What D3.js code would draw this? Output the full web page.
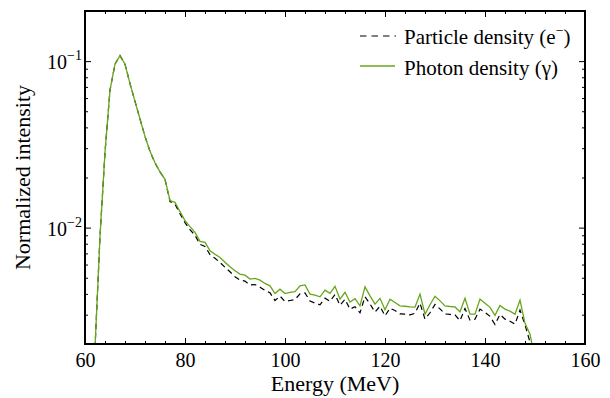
<!DOCTYPE html>
<html><head><meta charset="utf-8">
<script src="https://cdn.jsdelivr.net/npm/d3@7"></script>
<style>
body{margin:0;background:#fff}
svg{display:block}
text{font-family:"Liberation Serif","Times New Roman",serif;fill:#000}
</style>
</head><body>
<svg id="c" width="610" height="398"></svg>
<script>
// ---- data ----
const energy = [62,63,64,65,66,67,68,69,70,71,72,73,74,75,76,77,78,79,80,81,82,83,84,85,86,87,88,89,90,
  91,92,93,94,95,96,97,98,99,100,101,102,103,104,105,106,107,108,109,110,111,112,113,114,115,116,117,118,119,120,
  121,122,123,124,125,126,127,128,129,130,131,132,133,134,135,136,137,138,139,140,141,142,143,144,145,146,147,148,149,150];
const photon = [0.00189,0.00883,0.0283,0.0669,0.0959,0.1079,0.0959,0.0733,0.0573,0.0449,0.0353,0.0287,0.0245,0.0216,0.0195,
  0.01455,0.01420,0.01248,0.01102,0.01014,0.00937,0.00827,0.00815,0.00727,0.00692,0.00662,0.00620,0.00582,0.00551,
  0.00526,0.00518,0.00491,0.00495,0.00484,0.00462,0.00447,0.00402,0.00427,0.00402,0.00408,0.00413,0.00447,0.00453,
  0.00399,0.00393,0.00384,0.00421,0.00403,0.00444,0.00372,0.00409,0.00357,0.00374,0.00339,0.00441,0.00389,0.00347,
  0.00376,0.00321,0.00372,0.00355,0.00339,0.00337,0.00334,0.00333,0.00399,0.00302,0.00344,0.00387,0.00363,0.00339,
  0.00336,0.00334,0.00312,0.00376,0.00302,0.00302,0.00372,0.00351,0.00332,0.00297,0.00341,0.00324,0.00315,0.00302,
  0.00367,0.00266,0.00229,0.00163];
const particle = [0.00189,0.00883,0.0283,0.0669,0.0959,0.1079,0.0959,0.0733,0.0573,0.0449,0.0353,0.0287,0.0245,0.0216,0.0195,
  0.01435,0.01382,0.01214,0.01072,0.00972,0.00899,0.00793,0.00771,0.00688,0.00655,0.00618,0.00578,0.00543,0.00507,
  0.00484,0.00477,0.00452,0.00455,0.00439,0.00419,0.00406,0.00365,0.00388,0.00360,0.00365,0.00370,0.00400,0.00405,
  0.00362,0.00352,0.00344,0.00377,0.00361,0.00397,0.00342,0.00371,0.00324,0.00335,0.00308,0.00384,0.00348,0.00311,
  0.00337,0.00295,0.00328,0.00318,0.00303,0.00302,0.00299,0.00306,0.00352,0.00282,0.00308,0.00346,0.00325,0.00303,
  0.00301,0.00299,0.00276,0.00327,0.00278,0.00282,0.00324,0.00310,0.00293,0.00262,0.00301,0.00282,0.00274,0.00263,
  0.00320,0.00261,0.00205,0.00140];
const xTickValues = [60,80,100,120,140,160];
const xMinorTicks = [64,68,72,76,84,88,92,96,104,108,112,116,124,128,132,136,144,148,152,156];
const yMajorTicks = [0.01,0.1];
const yTickExponents = ["\u22122","\u22121"];
const yMinorTicks = [0.002,0.003,0.004,0.005,0.006,0.007,0.008,0.009,0.02,0.03,0.04,0.05,0.06,0.07,0.08,0.09,0.2];
const seriesNames = ["Particle density (e", "Photon density (\u03b3)"];
const xLabel = "Energy (MeV)";
const yLabel = "Normalized intensity";

// ---- layout ----
const L = 85, R = 585, T = 11, B = 344;
const svg = d3.select("#c");
const x = d3.scaleLinear().domain([60,160]).range([L,R]);
const y = d3.scaleLog().domain([0.002,0.2]).range([B,T]);

svg.append("defs").append("clipPath").attr("id","clip")
  .append("rect").attr("x",L).attr("y",T).attr("width",R-L).attr("height",B-T);

const green = "#66a619";
const dash = "5.5,4";

function tickAxis(gen, tr){
  const g = svg.append("g").attr("transform",tr).call(gen);
  g.select(".domain").remove();
  g.selectAll(".tick line").attr("stroke","#000").attr("stroke-width",1);
  return g;
}
// bottom
const xb = tickAxis(d3.axisBottom(x).tickValues(xTickValues).tickSize(-6).tickPadding(9).tickFormat(d3.format("d")), `translate(0,${B})`);
xb.selectAll("text").attr("font-size",20).attr("font-family","Liberation Serif");
tickAxis(d3.axisBottom(x).tickValues(xMinorTicks).tickSize(-3).tickFormat(""), `translate(0,${B})`);
// top
tickAxis(d3.axisTop(x).tickValues(xTickValues).tickSize(-6).tickFormat(""), `translate(0,${T})`);
tickAxis(d3.axisTop(x).tickValues(xMinorTicks).tickSize(-3).tickFormat(""), `translate(0,${T})`);
// left
tickAxis(d3.axisLeft(y).tickValues(yMajorTicks).tickSize(-6).tickFormat(""), `translate(${L},0)`);
tickAxis(d3.axisLeft(y).tickValues(yMinorTicks).tickSize(-3).tickFormat(""), `translate(${L},0)`);
// right
tickAxis(d3.axisRight(y).tickValues(yMajorTicks).tickSize(-6).tickFormat(""), `translate(${R},0)`);
tickAxis(d3.axisRight(y).tickValues(yMinorTicks).tickSize(-3).tickFormat(""), `translate(${R},0)`);

// y tick labels 10^n
yMajorTicks.forEach((v,i)=>{
  const t = svg.append("text").attr("x",82).attr("y",y(v)+8).attr("text-anchor","end").attr("font-size",20);
  t.append("tspan").text("10");
  t.append("tspan").attr("dy",-9).attr("font-size",14).text(yTickExponents[i]);
});

// lines
const pts = (arr)=> energy.map((e,i)=>({e, v: arr[i]}));
const line = d3.line().x(d=>x(d.e)).y(d=>y(d.v));
const plot = svg.append("g").attr("clip-path","url(#clip)");
plot.append("path").datum(pts(particle)).attr("d",line).attr("fill","none")
  .attr("stroke","#000").attr("stroke-width",1.2).attr("stroke-dasharray",dash);
plot.append("path").datum(pts(photon)).attr("d",line).attr("fill","none")
  .attr("stroke",green).attr("stroke-width",1.3);

// frame
svg.append("rect").attr("x",L).attr("y",T).attr("width",R-L).attr("height",B-T)
  .attr("fill","none").attr("stroke","#000").attr("stroke-width",2);

// legend
const lg = svg.append("g");
lg.append("line").attr("x1",360).attr("x2",396).attr("y1",36).attr("y2",36)
  .attr("stroke","#000").attr("stroke-width",1.2).attr("stroke-dasharray","6.5,5");
lg.append("line").attr("x1",360).attr("x2",395).attr("y1",66).attr("y2",66)
  .attr("stroke",green).attr("stroke-width",1.3);
const t1 = lg.append("text").attr("x",404).attr("y",44).attr("font-size",21);
t1.append("tspan").text(seriesNames[0]);
t1.append("tspan").attr("dy",-9).attr("font-size",14).text("\u2212");
t1.append("tspan").attr("dy",9).text(")");
lg.append("text").attr("x",404).attr("y",75).attr("font-size",21).text(seriesNames[1]);

// axis labels
svg.append("text").attr("x",(L+R)/2).attr("y",391).attr("text-anchor","middle").attr("font-size",22).text(xLabel);
svg.append("text").attr("transform",`translate(30,${(T+B)/2}) rotate(-90)`).attr("text-anchor","middle").attr("font-size",22).text(yLabel);
</script>
</body></html>
